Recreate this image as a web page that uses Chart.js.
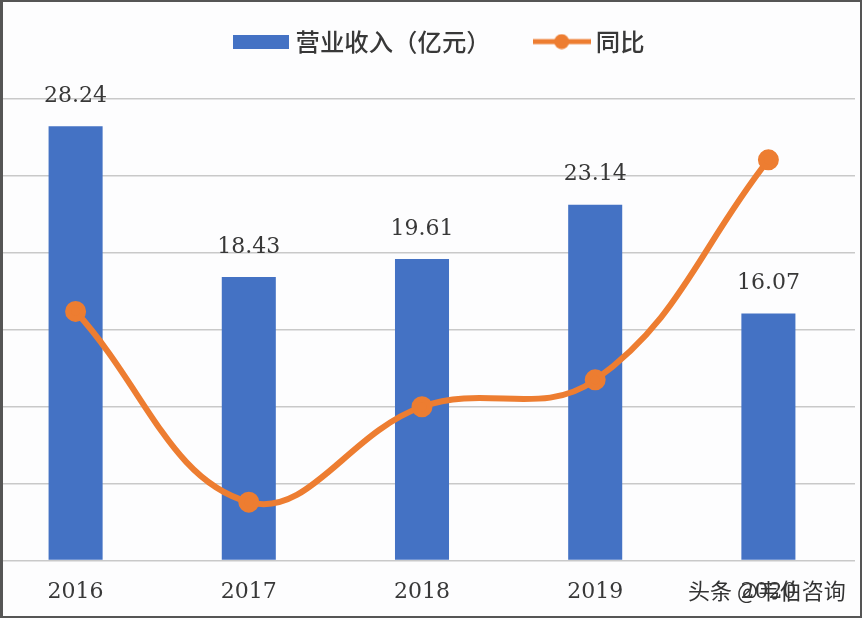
<!DOCTYPE html>
<html>
<head>
<meta charset="utf-8">
<style>
html,body{margin:0;padding:0;width:862px;height:620px;overflow:hidden;background:#fdfdfe}
#box{position:absolute;left:-11.5px;top:0;width:866px;height:620px}
#frame{position:absolute;left:0;top:0;width:862px;height:618px;box-sizing:border-box;border-style:solid;border-color:#555;border-width:2px 2px 2px 3px;pointer-events:none}
</style>
<script src="https://cdn.jsdelivr.net/npm/chart.js@4/dist/chart.umd.min.js"></script>
</head>
<body>
<div id="box"><canvas id="mychart" width="866" height="620"></canvas></div>
<div id="frame"></div>
<script>
const years=["2016","2017","2018","2019","2020"]
const revenue=[28.24,18.43,19.61,23.14,16.07]
// 同比 has no visible axis, values are read against the left scale
const yoy=[16.2,3.8,10,11.75,26.05]
const barName="营业收入（亿元）"
const lineName="同比"
const watermark="头条 @韦伯咨询"

const blue="#4472c4"
const orange="#ed7d31"
const textColor="#383838"
const numFont="'DejaVu Serif'"
const cjkFont="'Noto Sans CJK SC'"

function legendBar(){
    const c=document.createElement("canvas")
    c.width=56;c.height=14
    const g=c.getContext("2d")
    g.fillStyle=blue
    g.fillRect(0,0,56,14)
    return c
}
function legendLine(){
    const c=document.createElement("canvas")
    c.width=58;c.height=16
    const g=c.getContext("2d")
    g.strokeStyle=orange
    g.lineWidth=5
    g.beginPath();g.moveTo(0,8);g.lineTo(58,8);g.stroke()
    g.fillStyle=orange
    g.beginPath();g.arc(29,8,7.5,0,Math.PI*2);g.fill()
    return c
}

// value labels above the bars, plus the site watermark on top
const overlay={
    id:"overlay",
    afterLayout(chart){
        // legend sits off centre and higher up in the original
        chart.legend.top-=35.3
        chart.legend.left+=20
        chart.legend.right+=20
    },
    afterDatasetsDraw(chart){
        const ctx=chart.ctx
        const bars=chart.getDatasetMeta(1).data
        ctx.save()
        ctx.font="22px "+numFont
        ctx.fillStyle=textColor
        ctx.textAlign="center"
        ctx.textBaseline="middle"
        bars.forEach((b,i)=>{
            ctx.fillText(revenue[i].toFixed(2),b.x,b.y-30)
        })
        ctx.restore()
    },
    afterDraw(chart){
        const ctx=chart.ctx
        ctx.save()
        ctx.font="22px "+cjkFont
        ctx.textAlign="left"
        ctx.textBaseline="middle"
        ctx.fillStyle="#333"
        ctx.fillText(watermark,699,591)
        ctx.restore()
    }
}

new Chart("mychart",{
    data:{
        labels:years,
        datasets:[
            {
                type:"line",
                label:lineName,
                data:yoy,
                borderColor:orange,
                backgroundColor:orange,
                borderWidth:6,
                tension:0.4,
                pointRadius:7.5,
                pointHoverRadius:7.5,
                fill:false,
                order:1,
            },
            {
                type:"bar",
                label:barName,
                data:revenue,
                backgroundColor:blue,
                barPercentage:0.312,
                categoryPercentage:1,
                order:2,
            },
        ],
    },
    plugins:[overlay],
    options:{
        responsive:false,
        animation:false,
        layout:{autoPadding:false,padding:{top:15.7,bottom:5,left:0,right:0}},
        plugins:{
            tooltip:{enabled:false},
            legend:{
                display:true,
                position:"top",
                labels:{
                    usePointStyle:true,
                    pointStyleWidth:44,
                    color:textColor,
                    font:{family:cjkFont,size:24.4,weight:"500"},
                    padding:49,
                    generateLabels(){
                        return [
                            {text:barName,pointStyle:legendBar(),fontColor:textColor,datasetIndex:1},
                            {text:lineName,pointStyle:legendLine(),fontColor:textColor,datasetIndex:0},
                        ]
                    },
                },
            },
        },
        scales:{
            x:{
                grid:{display:false},
                border:{display:false},
                ticks:{color:textColor,font:{family:numFont,size:22},padding:10,maxRotation:0,autoSkip:false},
            },
            y:{
                min:0,
                max:30,
                ticks:{display:false,stepSize:5},
                border:{display:false},
                grid:{color:"#c9c9c9",lineWidth:1.5,drawTicks:false},
            },
        },
    },
})
</script>
</body>
</html>
